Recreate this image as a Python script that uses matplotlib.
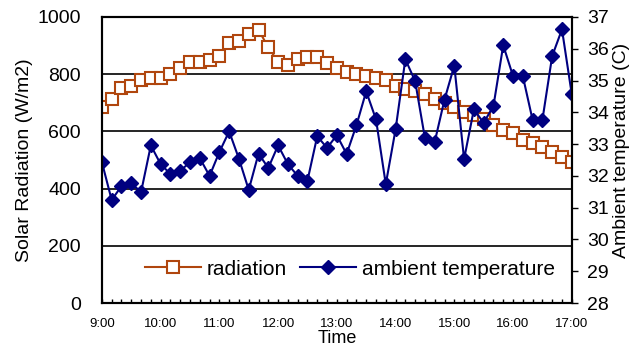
import numpy as np
import matplotlib
matplotlib.use('Agg')
import matplotlib.pyplot as plt

plt.rcParams['font.family'] = ['Liberation Sans', 'DejaVu Sans']

# readings every 10 minutes from 9:00 to 17:00
minutes = np.arange(0, 481, 10)
radiation = [684, 712, 752, 759, 780, 787, 787, 801, 822, 843, 843, 850, 864,
             908, 915, 941, 955, 894, 843, 831, 852, 859, 859, 838, 822, 808,
             801, 794, 787, 780, 759, 749, 742, 731, 712, 698, 686, 669, 657,
             642, 622, 605, 593, 570, 558, 547, 529, 511, 492]
temperature = [32.43, 31.24, 31.68, 31.77, 31.49, 32.96, 32.37, 32.06, 32.16,
               32.43, 32.56, 32.00, 32.75, 33.40, 32.54, 31.56, 32.70, 32.25,
               32.96, 32.37, 32.00, 31.85, 33.25, 32.88, 33.28, 32.69, 33.59,
               34.66, 33.78, 31.74, 33.46, 35.67, 34.98, 33.19, 33.07, 34.40,
               35.47, 32.53, 34.09, 33.67, 34.20, 36.11, 35.14, 35.14, 33.76,
               33.76, 35.77, 36.61, 34.57]
hour_labels = ['9:00', '10:00', '11:00', '12:00', '13:00', '14:00', '15:00', '16:00', '17:00']

rad_color = '#B0460E'
temp_color = '#000080'

fig = plt.figure(figsize=(6.29, 3.54), dpi=100)
ax = fig.add_axes([0.162, 0.144, 0.747, 0.808])
ax2 = ax.twinx()

l1, = ax.plot(minutes, radiation, color=rad_color, lw=1.5, marker='s', ms=8,
              mfc='white', mec=rad_color, mew=1.5, label='radiation')
l2, = ax2.plot(minutes, temperature, color=temp_color, lw=1.5, marker='D', ms=7,
               mfc=temp_color, mec=temp_color, label='ambient temperature')

ax.set_xlim(0, 480)
ax.set_ylim(0, 1000)
ax.set_yticks(range(0, 1001, 200))
ax.grid(axis='y', color='black', lw=1.2)
ax.set_axisbelow(True)
ax.set_xticks(range(0, 481, 60))
ax.set_xticklabels(hour_labels, fontsize=9.5)
ax.set_xticks(minutes, minor=True)
ax.tick_params(axis='x', which='both', direction='in', length=3, width=1, pad=11)
ax.tick_params(axis='y', length=0, labelsize=14, pad=15)
ax.set_xlabel('Time', fontsize=13, labelpad=0)
ax.set_ylabel('Solar Radiation (W/m2)', fontsize=14, labelpad=3)

ax2.set_ylim(28, 37)
ax2.set_yticks(range(28, 38))
ax2.tick_params(axis='y', direction='out', length=4, width=1, labelsize=14, pad=7)
ax2.set_ylabel('Ambient temperature (C)', fontsize=14)
ax2.yaxis.set_label_coords(1.088, 0.535)

for a in (ax, ax2):
    for s in a.spines.values():
        s.set_linewidth(1.5)

leg = ax.legend(handles=[l1, l2], loc='lower center', bbox_to_anchor=(0.528, 0.02),
                ncol=2, frameon=False, fontsize=15, handlelength=2.7,
                columnspacing=0.6, handletextpad=0.3)

fig.savefig('out.png', dpi=100)
